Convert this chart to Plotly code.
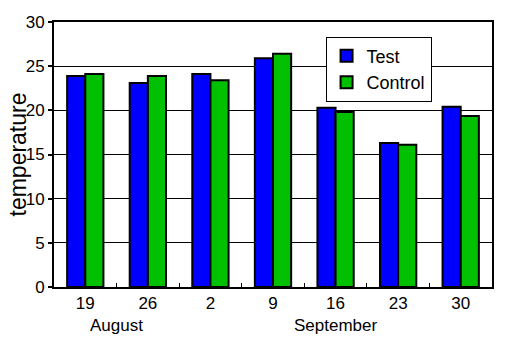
import plotly.graph_objects as go

categories = ["19", "26", "2", "9", "16", "23", "30"]
test_vals = [23.9, 23.1, 24.1, 25.9, 20.3, 16.3, 20.4]
control_vals = [24.1, 23.9, 23.4, 26.4, 19.8, 16.1, 19.35]
month_labels = ["August", "September"]
month_pos = [0.5, 4]
y_title = "temperature"

font = "Liberation Sans, Arial, Helvetica, sans-serif"

fig = go.Figure()
fig.add_trace(go.Bar(name="Test", x=categories, y=test_vals,
                     marker=dict(color="#0000ff", line=dict(color="black", width=2))))
fig.add_trace(go.Bar(name="Control", x=categories, y=control_vals,
                     marker=dict(color="#00c000", line=dict(color="black", width=2))))

for lab, pos in zip(month_labels, month_pos):
    fig.add_annotation(x=pos, y=0, xref="x", yref="paper", yshift=-38,
                       text=lab, showarrow=False, yanchor="middle",
                       font=dict(family=font, size=17, color="black"))

fig.add_annotation(x=0, y=0.5, xref="paper", yref="paper", xshift=-37,
                   text=y_title, textangle=-90, showarrow=False,
                   xanchor="center", yanchor="middle",
                   font=dict(family=font, size=23, color="black"))

fig.update_layout(
    width=518, height=352,
    margin=dict(l=54, r=26, t=22, b=65),
    paper_bgcolor="white", plot_bgcolor="white",
    barmode="group", bargap=0.42, bargroupgap=0,
    font=dict(family=font, size=16, color="black"),
    legend=dict(x=0.62, y=0.945, xanchor="left", yanchor="top",
                bordercolor="black", borderwidth=1, bgcolor="white",
                font=dict(family=font, size=18, color="black"),
                tracegroupgap=0, itemwidth=30),
    xaxis=dict(type="category", range=[-0.5, 6.5], showline=True, linecolor="black",
               linewidth=2, mirror=True, ticks="inside", tickson="boundaries",
               ticklen=4, tickwidth=1, tickcolor="black", showgrid=False,
               automargin=False,
               tickfont=dict(family=font, size=17, color="black")),
    yaxis=dict(range=[0, 30], dtick=5, showline=True, linecolor="black",
               linewidth=2, mirror=True, ticks="outside", ticklen=4, tickwidth=2,
               tickcolor="black", showgrid=True, gridcolor="black", gridwidth=1,
               zeroline=False, automargin=False,
               tickfont=dict(family=font, size=17, color="black")),
)

fig.write_html("out.html")
